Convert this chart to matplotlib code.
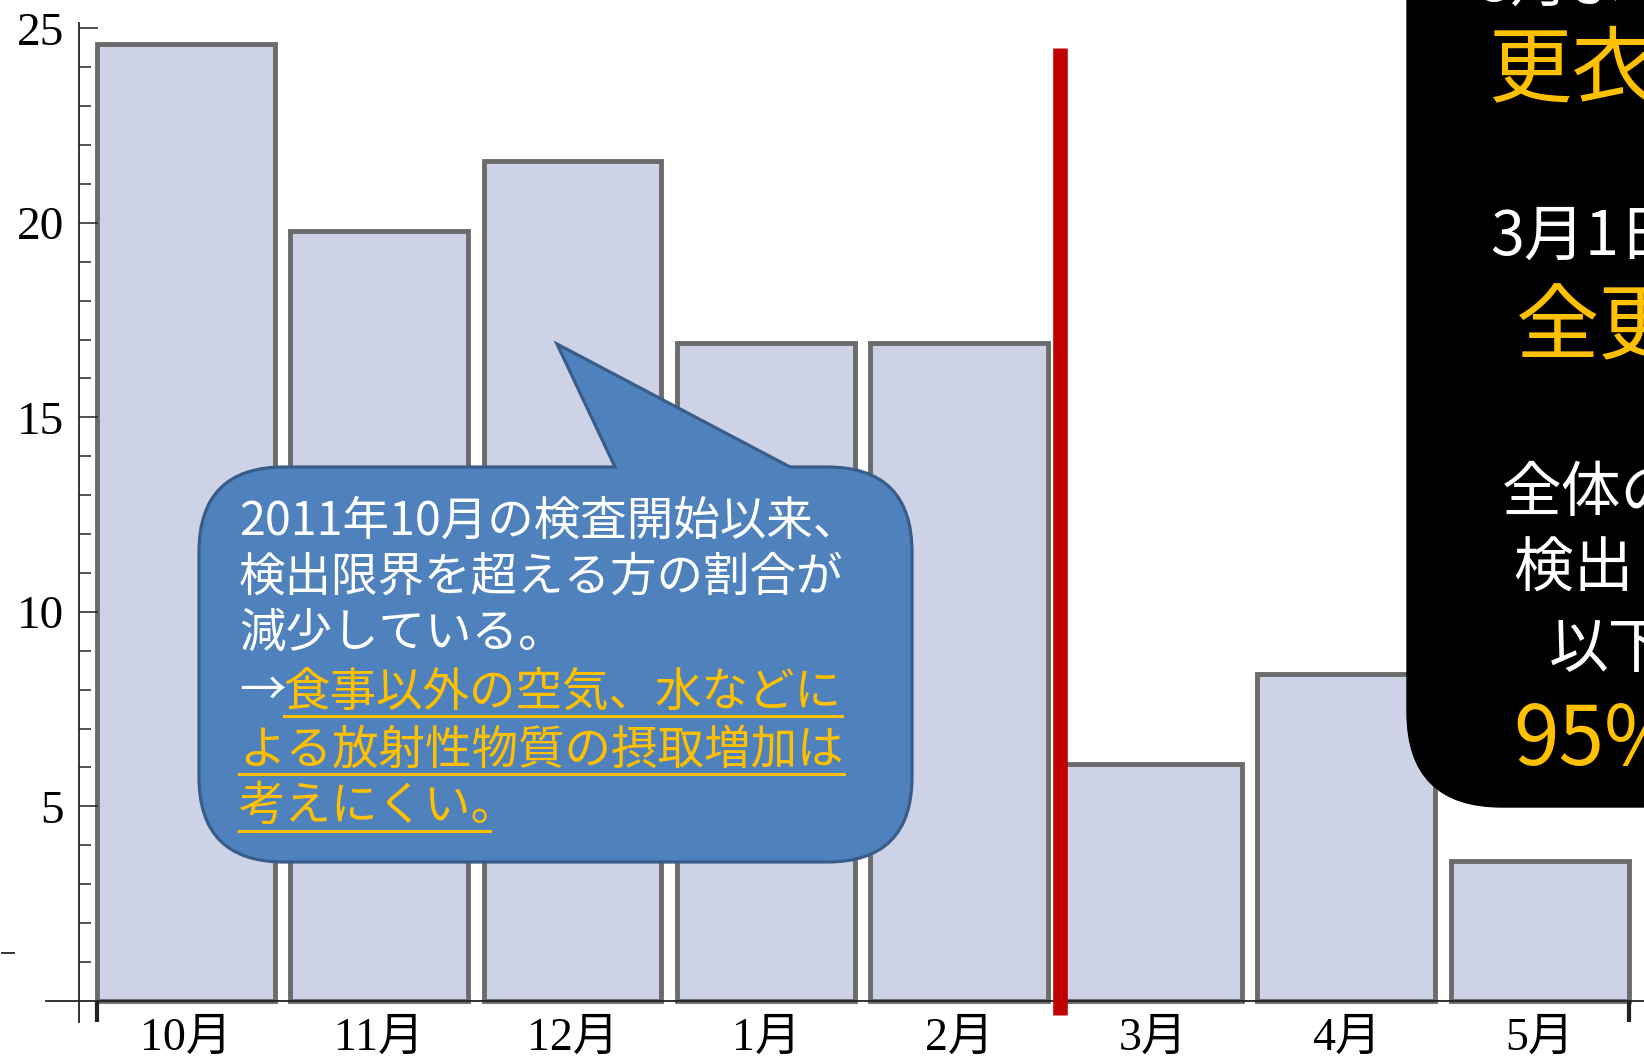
import numpy as np
import matplotlib
matplotlib.use("Agg")
import matplotlib.pyplot as plt
from matplotlib.path import Path
from matplotlib.patches import PathPatch
from matplotlib.lines import Line2D
from matplotlib import transforms

# share of people above the detection limit, by month of testing
months = ["10月", "11月", "12月", "1月", "2月", "3月", "4月", "5月"]
rates = [24.6, 19.8, 21.6, 16.9, 16.9, 6.1, 8.4, 3.6]
y_major = [5, 10, 15, 20, 25]
y_minor = [v for v in range(1, 25) if v % 5]
cutoff_x = 4.52  # change of procedure between Feb and Mar

callout_white = ["2011年10月の検査開始以来、", "検出限界を超える方の割合が", "減少している。"]
callout_yellow = ["食事以外の空気、水などに", "よる放射性物質の摂取増加は", "考えにくい。"]

YELLOW = "#ffc000"
JP = ["Noto Sans CJK JP", "DejaVu Sans"]

W, H = 1644, 1058
fig = plt.figure(figsize=(W / 100, H / 100), dpi=100)
ax = fig.add_axes([0, 0, 1, 1])
ax.set_xlim(-0.96, 7.54)
ax.set_ylim(-1.47, 25.73)

x = np.arange(len(months))
bar_w = 0.92
ax.bar(x, rates, width=bar_w, color="#cdd2e6", edgecolor="#6b6b6b",
       linewidth=3.5, zorder=1)

# axes drawn Mathematica-style: spines crossing, inward ticks
for s in ["top", "right"]:
    ax.spines[s].set_visible(False)
ax.spines["left"].set_position(("data", -0.55))
ax.spines["left"].set_bounds(-0.54, 25.13)
ax.spines["bottom"].set_position(("data", 0))
ax.spines["bottom"].set_bounds(-0.72, 7.54)
for s in ["left", "bottom"]:
    ax.spines[s].set_color("#222222")
    ax.spines[s].set_linewidth(1.3)

ax.set_yticks(y_major)
ax.set_yticklabels([str(v) for v in y_major], fontfamily="Liberation Serif", fontsize=34)
ax.set_yticks(y_minor, minor=True)
ax.tick_params(axis="y", which="major", direction="in", length=13.5, width=1.1,
               pad=11, color="#222222")
ax.tick_params(axis="y", which="minor", direction="in", length=8.5, width=1.1,
               color="#222222")

ax.set_xticks(x)
ax.set_xticklabels(months, fontfamily=["Liberation Serif", "Noto Sans CJK JP"], fontsize=33)
ax.set_xticks([x[0] - bar_w / 2, x[-1] + bar_w / 2], minor=True)
ax.tick_params(axis="x", which="major", length=0, pad=12)
ax.tick_params(axis="x", which="minor", direction="out", length=15, width=3,
               color="#222222")

ax.plot([cutoff_x, cutoff_x], [-0.36, 24.5], color="#c00000", lw=10.5,
        solid_capstyle="butt", zorder=3)

# pixel coordinates measured from the top-left corner
px = transforms.Affine2D().scale(1, -1).translate(0, H)


def rounded_box(x0, y0, x1, y1, r, pointer=None):
    verts = [(x0 + r, y0)]
    codes = [Path.MOVETO]
    if pointer is not None:
        b0, tip, b1 = pointer
        verts += [(b0, y0), tip, (b1, y0)]
        codes += [Path.LINETO] * 3
    verts += [(x1 - r, y0), (x1, y0), (x1, y0 + r),
              (x1, y1 - r), (x1, y1), (x1 - r, y1),
              (x0 + r, y1), (x0, y1), (x0, y1 - r),
              (x0, y0 + r), (x0, y0), (x0 + r, y0), (x0 + r, y0)]
    codes += [Path.LINETO, Path.CURVE3, Path.CURVE3,
              Path.LINETO, Path.CURVE3, Path.CURVE3,
              Path.LINETO, Path.CURVE3, Path.CURVE3,
              Path.LINETO, Path.CURVE3, Path.CURVE3, Path.CLOSEPOLY]
    return Path(verts, codes)


bubble = rounded_box(199, 467, 912, 862, 85, pointer=(615, (557, 344), 790))
ax.add_patch(PathPatch(bubble, transform=px, facecolor="#4f81bd",
                       edgecolor="#385d8a", lw=2.3, zorder=4, clip_on=False))

black = rounded_box(1407, -120, 1760, 807, 95)
ax.add_patch(PathPatch(black, transform=px, facecolor="black",
                       edgecolor="black", lw=1, zorder=4, clip_on=False))

# callout text
fs_call = 33.5
line_y = [521, 577, 634, 692, 750, 807]
for s, yy in zip(callout_white, line_y):
    ax.text(239, yy, s, transform=px, color="white", fontsize=fs_call, family=JP,
            va="center", ha="left", zorder=5)

fig.canvas.draw()
renderer = fig.canvas.get_renderer()
arrow = ax.text(239, line_y[3], "→", transform=px, color="white", fontsize=fs_call,
                family=JP, va="center", ha="left", zorder=5)
ax_x = arrow.get_window_extent(renderer).x1
starts = [ax_x - 2, 239, 239]
for s, yy, x0 in zip(callout_yellow, line_y[3:], starts):
    t = ax.text(x0, yy, s, transform=px, color=YELLOW, fontsize=fs_call, family=JP,
                va="center", ha="left", zorder=5)
    bb = t.get_window_extent(renderer)
    x1 = bb.x1 - (28 if s.endswith("。") else 0)
    uy = yy + 24
    fig.add_artist(Line2D([bb.x0, x1], [H - uy, H - uy], color=YELLOW, lw=2.2,
                          transform=transforms.IdentityTransform(), zorder=6))

# right-hand black panel
panel = [
    ("3月より", 1478, -16, 42, "white"),
    ("更衣実施", 1488, 72, 60, YELLOW),
    ("3月1日より", 1490, 237, 44, "white"),
    ("全更衣", 1516, 328, 60, YELLOW),
    ("全体の", 1502, 494, 43, "white"),
    ("検出　限界", 1514, 570, 43, "white"),
    ("以下が", 1549, 650, 43, "white"),
    ("95%", 1513, 741, 59, YELLOW),
]
for s, xx, yy, fs, c in panel:
    ax.text(xx, yy, s, transform=px, color=c, fontsize=fs, family=JP,
            va="center", ha="left", zorder=5)

# short stray dash at the far left
fig.add_artist(Line2D([2, 14], [H - 953, H - 953], color="#222222", lw=1.3,
                      transform=transforms.IdentityTransform()))

fig.savefig("out.png", dpi=100)
